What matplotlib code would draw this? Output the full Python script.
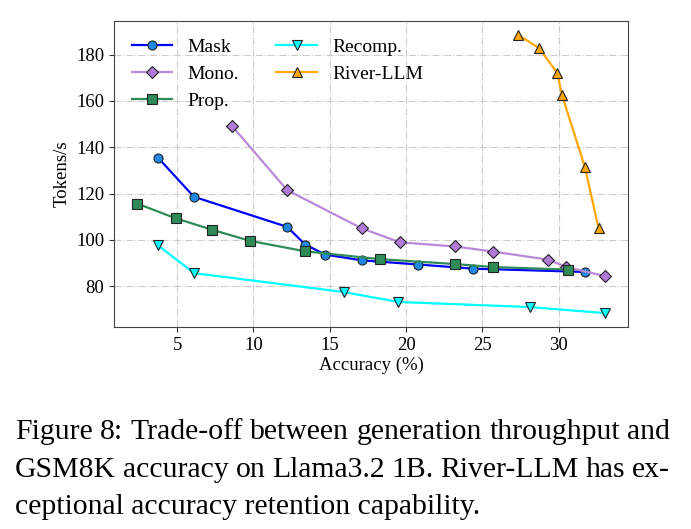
import numpy as np
import matplotlib.pyplot as plt

# accuracy (%) vs tokens/s
mask_x = [3.75, 6.1, 12.2, 13.4, 14.7, 17.1, 20.8, 24.4, 31.7]
mask_y = [135.5, 118.6, 105.6, 97.9, 93.6, 91.1, 89.3, 87.5, 86.1]

mono_x = [8.6, 12.2, 17.1, 19.6, 23.2, 25.7, 29.3, 30.5, 33.0]
mono_y = [149.2, 121.5, 104.9, 98.9, 97.1, 94.9, 91.4, 88.2, 84.3]

prop_x = [2.4, 4.9, 7.3, 9.8, 13.4, 18.3, 23.2, 25.7, 30.6]
prop_y = [115.6, 109.3, 104.3, 99.5, 95.0, 91.6, 89.5, 88.2, 87.1]

recomp_x = [3.75, 6.1, 15.9, 19.5, 28.1, 33.0]
recomp_y = [97.6, 85.6, 77.4, 73.1, 70.9, 68.3]

river_x = [27.3, 28.7, 29.9, 30.2, 31.7, 32.6]
river_y = [188.7, 182.9, 172.1, 162.7, 131.6, 105.1]

caption1 = "Figure 8: Trade-off between generation throughput and"
caption2 = "GSM8K accuracy on Llama3.2 1B. River-LLM has ex-"
caption3 = "ceptional accuracy retention capability."

plt.rcParams['font.family'] = ['Liberation Serif', 'DejaVu Serif']
W, H = 691, 529
fig = plt.figure(figsize=(W / 100, H / 100), dpi=100)
ax = fig.add_axes([114 / W, 1 - 327 / H, (628 - 114) / W, (327 - 20.7) / H])

kw = dict(markersize=6.5, markeredgecolor='#222222', markeredgewidth=0.8, lw=1.6)
ax.plot(mask_x, mask_y, color='blue', marker='o', markerfacecolor='#1e88e5', label='Mask', **kw)
ax.plot(mono_x, mono_y, color='#b889d8', marker='D', markerfacecolor='#b07cd8', label='Mono.', **kw)
ax.plot(prop_x, prop_y, color='#2e8b57', marker='s', markerfacecolor='#2e8b57', label='Prop.', **kw)
ax.plot(recomp_x, recomp_y, color='cyan', marker='v', markerfacecolor='cyan', label='Recomp.', **kw)
ax.plot(river_x, river_y, color='orange', marker='^', markerfacecolor='orange', label='River-LLM', **kw)

ax.set_yticks([80, 100, 120, 140, 160, 180])
ax.set_xticks([5, 10, 15, 20, 25, 30])
ax.tick_params(labelsize=13.5, colors='#333333', labelcolor='black')
ax.grid(True, linestyle='-.', color='#cccccc', lw=0.8)
ax.set_axisbelow(True)
for s in ax.spines.values():
    s.set_color('#444444')
ax.set_xlabel('Accuracy (%)', fontsize=13.5, labelpad=2)
ax.set_ylabel('Tokens/s', fontsize=13.5, labelpad=4)
ax.legend(ncol=2, loc='upper left', frameon=False, fontsize=14,
          handlelength=2.1, labelspacing=0.48, columnspacing=1.9,
          bbox_to_anchor=(0.0, 1.0))

# caption, justified like the paper
r = fig.canvas.get_renderer()
probe = fig.text(0, 0, caption1, fontsize=20)
size = 20 * 655 / probe.get_window_extent(r).width
probe.remove()


def justify(line, base_px, x0, x1):
    ts = [fig.text(0, 1 - base_px / H, w, fontsize=size, va='baseline') for w in line.split()]
    widths = [t.get_window_extent(r).width for t in ts]
    gap = (x1 - x0 - sum(widths)) / (len(ts) - 1)
    x = x0
    for t, w in zip(ts, widths):
        t.set_x(x / W)
        x += w + gap


justify(caption1, 439, 15, 670)
justify(caption2, 477, 15, 670)
fig.text(15 / W, 1 - 514 / H, caption3, fontsize=size, va='baseline')

fig.savefig('out.png', dpi=100)
